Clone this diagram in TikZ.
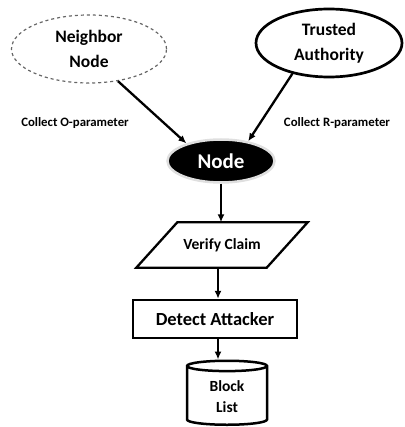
\documentclass[tikz,border=0pt]{standalone}
\usepackage{fontspec}
\setmainfont{Carlito}
\usetikzlibrary{shapes.geometric,arrows.meta}

\begin{document}
\begin{tikzpicture}[x=1pt,y=-1pt,
  every node/.style={font=\bfseries, align=center},
  arr/.style={-{Latex[length=8pt,width=7pt]}, line width=2.3pt},
  bigfont/.style={font=\bfseries\fontsize{17.5}{25}\selectfont}]
  \useasboundingbox (0,0) rectangle (404,427);
  \node [ellipse, draw=gray!80!black, dashed, line width=1.2pt,
    minimum width=155pt, minimum height=68pt, bigfont] (nb) at (89,49) {Neighbor\\Node};
  \node [ellipse, draw, line width=2.7pt, minimum width=146pt, minimum height=68pt,
    bigfont] (ta) at (329,43) {Trusted\\Authority};
  \node [ellipse, fill=black, draw=gray!25, line width=2.5pt, text=white,
    minimum width=107pt, minimum height=43pt,
    font=\bfseries\fontsize{21}{25}\selectfont] (node) at (221,161) {Node};
  \node [minimum width=130pt, minimum height=45pt,
    font=\bfseries\fontsize{15.5}{18}\selectfont] (verify) at (222,245) {Verify Claim};
  \draw [line width=2.3pt, line join=miter]
    ([xshift=20.5pt]verify.north west) -- ([xshift=20.5pt]verify.north east)
    -- ([xshift=-20.5pt]verify.south east) -- ([xshift=-20.5pt]verify.south west) -- cycle;
  \node [rectangle, draw, line width=2.5pt, minimum width=164pt, minimum height=38pt,
    font=\bfseries\fontsize{18.5}{20}\selectfont] (detect) at (215,319) {Detect Attacker};
  \node [cylinder, shape border rotate=90, aspect=0.25, draw, line width=2.5pt,
    minimum width=80pt, minimum height=64pt,
    font=\bfseries\fontsize{15.5}{21}\selectfont] (block) at (227,397) {Block\\List};
  % labels
  \node [font=\bfseries\fontsize{12.8}{14}\selectfont] (lo) at (75,123) {Collect O-parameter};
  \node [font=\bfseries\fontsize{12.8}{14}\selectfont] (lr) at (337,123) {Collect R-parameter};
  % arrows
  \draw [arr] (nb.-48) -- (node.153);
  \draw [arr] (ta.220) -- (node.36);
  \draw [arr] (node.south) -- (verify.north -| node.south);
  \draw [arr] (verify.south -| 218,0) -- (detect.north -| 218,0);
  \draw [arr] (detect.south -| 218,0) -- (block.north -| 218,0);
\end{tikzpicture}
\end{document}
